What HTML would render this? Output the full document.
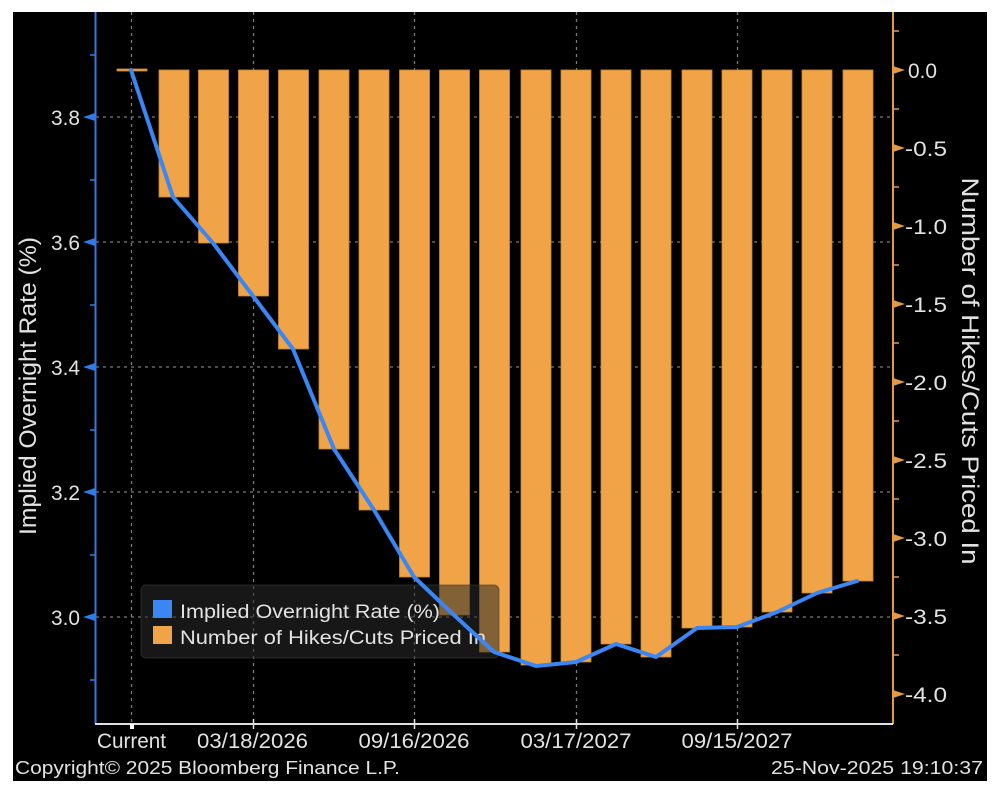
<!DOCTYPE html>
<html>
<head>
<meta charset="utf-8">
<style>
html,body{margin:0;padding:0;background:#fff;}
svg{display:block;}
text{font-family:"Liberation Sans","DejaVu Sans",sans-serif;fill:#e2e2e2;}
</style>
</head>
<body>
<svg width="996" height="792" viewBox="0 0 996 792" xmlns="http://www.w3.org/2000/svg">
  <rect x="0" y="0" width="996" height="792" fill="#ffffff"/>
  <rect x="13" y="12" width="974" height="769" fill="#000000"/>

  <!-- grid -->
  <g stroke="#7a7a7a" stroke-width="1.3" stroke-dasharray="3,4" fill="none">
    <line x1="96" y1="117" x2="893" y2="117"/>
    <line x1="96" y1="242" x2="893" y2="242"/>
    <line x1="96" y1="367" x2="893" y2="367"/>
    <line x1="96" y1="492" x2="893" y2="492"/>
    <line x1="96" y1="617" x2="893" y2="617"/>
    <line x1="131.5" y1="12" x2="131.5" y2="724"/>
    <line x1="253.5" y1="12" x2="253.5" y2="724"/>
    <line x1="414.5" y1="12" x2="414.5" y2="724"/>
    <line x1="576.5" y1="12" x2="576.5" y2="724"/>
    <line x1="737.5" y1="12" x2="737.5" y2="724"/>
  </g>

  <!-- bars -->
  <g fill="#f0a447" stroke="#c98533" stroke-width="0.8">
    <rect x="117" y="69" width="30" height="2"/>
    <rect x="159" y="70" width="30" height="127"/>
    <rect x="198.5" y="70" width="30" height="173"/>
    <rect x="238.5" y="70" width="30" height="226"/>
    <rect x="278.5" y="70" width="30" height="279"/>
    <rect x="319" y="70" width="30" height="379"/>
    <rect x="359" y="70" width="30" height="440"/>
    <rect x="399.5" y="70" width="30" height="507"/>
    <rect x="439.5" y="70" width="30" height="545"/>
    <rect x="479.5" y="70" width="30" height="582"/>
    <rect x="521" y="70" width="30" height="595"/>
    <rect x="561" y="70" width="30" height="592"/>
    <rect x="601" y="70" width="30" height="574"/>
    <rect x="641" y="70" width="30" height="587"/>
    <rect x="682" y="70" width="30" height="558"/>
    <rect x="722" y="70" width="30" height="557"/>
    <rect x="762" y="70" width="30" height="542"/>
    <rect x="802" y="70" width="30" height="523"/>
    <rect x="843" y="70" width="30" height="511"/>
  </g>

  <!-- legend -->
  <rect x="141" y="585" width="358" height="73" rx="5" ry="5" fill="#2a2a2a" fill-opacity="0.55" stroke="#3a3a3a" stroke-opacity="0.6" stroke-width="1"/>
  <rect x="153" y="600" width="19" height="18" fill="#3a86f4"/>
  <rect x="153" y="626" width="19" height="18" fill="#f0a447"/>
  <text x="180" y="618" font-size="19" textLength="260" lengthAdjust="spacingAndGlyphs">Implied Overnight Rate (%)</text>
  <text x="180" y="644" font-size="19" textLength="306" lengthAdjust="spacingAndGlyphs">Number of Hikes/Cuts Priced In</text>

  <!-- line -->
  <polyline fill="none" stroke="#3a86f4" stroke-width="4" stroke-linejoin="round" stroke-linecap="round"
    points="131,70 173,197 213,243 253,296 293,349 334,449 374,510 414,577 454,615 494,652 536,666 576,662 616,644 656,657 697,628 737,627 777,612 817,593 857,581"/>

  <!-- left axis -->
  <line x1="95.5" y1="12" x2="95.5" y2="724" stroke="#2f7ae6" stroke-width="2"/>
  <g stroke="#2f7ae6" stroke-width="1.5">
    <line x1="90" y1="55" x2="95" y2="55"/>
    <line x1="90" y1="180" x2="95" y2="180"/>
    <line x1="90" y1="305" x2="95" y2="305"/>
    <line x1="90" y1="430" x2="95" y2="430"/>
    <line x1="90" y1="555" x2="95" y2="555"/>
    <line x1="90" y1="680" x2="95" y2="680"/>
  </g>
  <g fill="#2f7ae6">
    <polygon points="83,117 95,113 95,121"/>
    <polygon points="83,242 95,238 95,246"/>
    <polygon points="83,367 95,363 95,371"/>
    <polygon points="83,492 95,488 95,496"/>
    <polygon points="83,617 95,613 95,621"/>
  </g>
  <g font-size="21" text-anchor="end">
    <text x="80" y="125" textLength="29" lengthAdjust="spacingAndGlyphs">3.8</text>
    <text x="80" y="250" textLength="29" lengthAdjust="spacingAndGlyphs">3.6</text>
    <text x="80" y="375" textLength="29" lengthAdjust="spacingAndGlyphs">3.4</text>
    <text x="80" y="500" textLength="29" lengthAdjust="spacingAndGlyphs">3.2</text>
    <text x="80" y="625" textLength="29" lengthAdjust="spacingAndGlyphs">3.0</text>
  </g>
  <text transform="translate(36,386) rotate(-90)" text-anchor="middle" font-size="24" textLength="298" lengthAdjust="spacingAndGlyphs">Implied Overnight Rate (%)</text>

  <!-- right axis -->
  <line x1="893" y1="12" x2="893" y2="724" stroke="#e29a45" stroke-width="2"/>
  <g stroke="#e29a45" stroke-width="1.5">
    <line x1="893" y1="31" x2="899" y2="31"/>
    <line x1="893" y1="109" x2="899" y2="109"/>
    <line x1="893" y1="187" x2="899" y2="187"/>
    <line x1="893" y1="265" x2="899" y2="265"/>
    <line x1="893" y1="343" x2="899" y2="343"/>
    <line x1="893" y1="421" x2="899" y2="421"/>
    <line x1="893" y1="499" x2="899" y2="499"/>
    <line x1="893" y1="577" x2="899" y2="577"/>
    <line x1="893" y1="655" x2="899" y2="655"/>
  </g>
  <g fill="#e29a45">
    <polygon points="893,66 893,74 905,70"/>
    <polygon points="893,144 893,152 905,148"/>
    <polygon points="893,222 893,230 905,226"/>
    <polygon points="893,300 893,308 905,304"/>
    <polygon points="893,378 893,386 905,382"/>
    <polygon points="893,456 893,464 905,460"/>
    <polygon points="893,534 893,542 905,538"/>
    <polygon points="893,612 893,620 905,616"/>
    <polygon points="893,690 893,698 905,694"/>
  </g>
  <g font-size="21">
    <text x="908" y="78" textLength="29" lengthAdjust="spacingAndGlyphs">0.0</text>
    <text x="905" y="156" textLength="42" lengthAdjust="spacingAndGlyphs">-0.5</text>
    <text x="905" y="234" textLength="42" lengthAdjust="spacingAndGlyphs">-1.0</text>
    <text x="905" y="312" textLength="42" lengthAdjust="spacingAndGlyphs">-1.5</text>
    <text x="905" y="390" textLength="42" lengthAdjust="spacingAndGlyphs">-2.0</text>
    <text x="905" y="468" textLength="42" lengthAdjust="spacingAndGlyphs">-2.5</text>
    <text x="905" y="546" textLength="42" lengthAdjust="spacingAndGlyphs">-3.0</text>
    <text x="905" y="624" textLength="42" lengthAdjust="spacingAndGlyphs">-3.5</text>
    <text x="905" y="702" textLength="42" lengthAdjust="spacingAndGlyphs">-4.0</text>
  </g>
  <text transform="translate(962,371) rotate(90)" text-anchor="middle" font-size="24" textLength="387" lengthAdjust="spacingAndGlyphs">Number of Hikes/Cuts Priced In</text>

  <!-- bottom axis -->
  <line x1="95" y1="724" x2="893" y2="724" stroke="#e0e0e0" stroke-width="2"/>
  <rect x="130" y="724" width="4" height="5" fill="#ffffff"/>
  <g stroke="#e0e0e0" stroke-width="1.5">
    <line x1="253.5" y1="719" x2="253.5" y2="729"/>
    <line x1="414.5" y1="719" x2="414.5" y2="729"/>
    <line x1="576.5" y1="719" x2="576.5" y2="729"/>
    <line x1="737.5" y1="719" x2="737.5" y2="729"/>
  </g>
  <g font-size="21" text-anchor="middle">
    <text x="131.5" y="748" textLength="69" lengthAdjust="spacingAndGlyphs">Current</text>
    <text x="252.5" y="748" textLength="111" lengthAdjust="spacingAndGlyphs">03/18/2026</text>
    <text x="414" y="748" textLength="111" lengthAdjust="spacingAndGlyphs">09/16/2026</text>
    <text x="576" y="748" textLength="111" lengthAdjust="spacingAndGlyphs">03/17/2027</text>
    <text x="737" y="748" textLength="111" lengthAdjust="spacingAndGlyphs">09/15/2027</text>
  </g>

  <!-- footer -->
  <text x="15" y="774" font-size="18" textLength="385" lengthAdjust="spacingAndGlyphs">Copyright© 2025 Bloomberg Finance L.P.</text>
  <text x="983" y="774" font-size="18" text-anchor="end" textLength="212" lengthAdjust="spacingAndGlyphs">25-Nov-2025 19:10:37</text>
</svg>
</body>
</html>
